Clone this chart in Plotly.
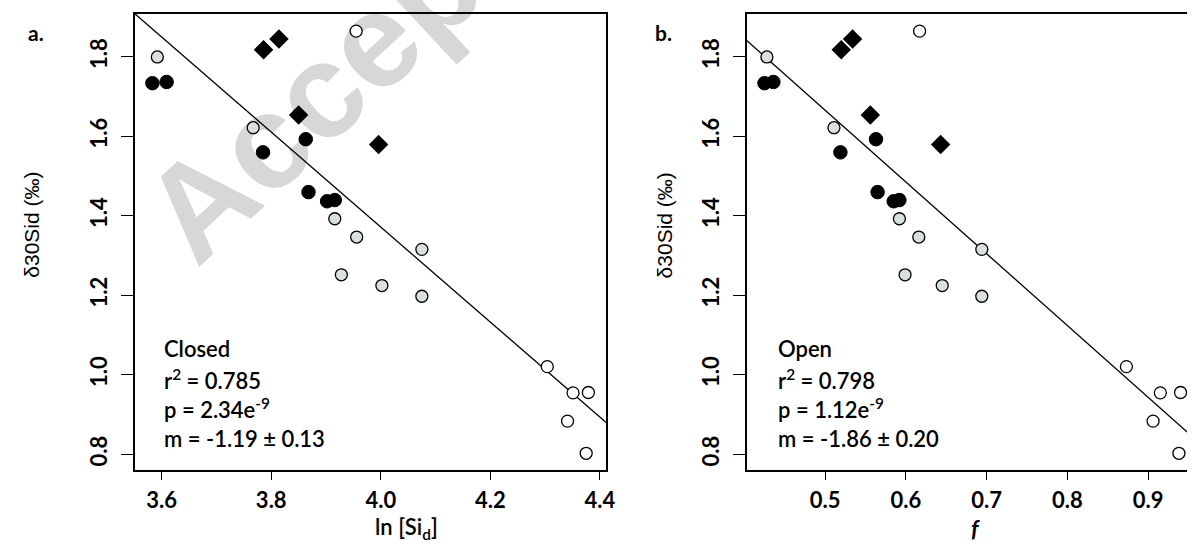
import plotly.graph_objects as go

# ---------------- data ----------------
# Panel a: ln[Si_d] (closed system)
grey_x_a = [3.592, 3.767, 3.916, 3.956, 4.075, 3.928, 4.002, 4.075]
grey_y = [1.800, 1.622, 1.393, 1.347, 1.316, 1.252, 1.225, 1.198]
white_x_a = [3.955, 4.304, 4.351, 4.379, 4.341, 4.375]
white_y = [1.865, 1.021, 0.955, 0.956, 0.884, 0.803]
black_x_a = [3.583, 3.609, 3.785, 3.863, 3.868, 3.902, 3.916]
black_y = [1.734, 1.737, 1.560, 1.593, 1.460, 1.437, 1.440]
diam_x_a = [3.786, 3.814, 3.850, 3.996]
diam_y = [1.818, 1.845, 1.654, 1.580]
fit_a = dict(slope=-1.195, intercept=6.152, x0=3.40, x1=4.60)

# Panel b: f (open system)
grey_x_b = [0.428, 0.511, 0.592, 0.616, 0.694, 0.599, 0.645, 0.694]
white_x_b = [0.617, 0.873, 0.915, 0.940, 0.906, 0.938]
black_x_b = [0.425, 0.436, 0.519, 0.563, 0.565, 0.585, 0.592]
diam_x_b = [0.520, 0.534, 0.556, 0.643]
fit_b = dict(slope=-1.806, intercept=2.569, x0=0.30, x1=1.10)

stats_a = ["Closed", "r<sup>2</sup> = 0.785", "p = 2.34e<sup>-9</sup>", "m = -1.19 ± 0.13"]
stats_b = ["Open", "r<sup>2</sup> = 0.798", "p = 1.12e<sup>-9</sup>", "m = -1.86 ± 0.20"]

y_ticks = [0.8, 1.0, 1.2, 1.4, 1.6, 1.8]
x_ticks_a = [3.6, 3.8, 4.0, 4.2, 4.4]
x_ticks_b = [0.5, 0.6, 0.7, 0.8, 0.9]

# ---------------- layout helpers ----------------
W, H = 1197, 545
def px(x):
    return x / W
def py(y):
    return 1 - y / H

GREY = "#d9e0e0"
TICKFONT = dict(family="Lato", size=22, color="black", weight=700)

fig = go.Figure()

def add_panel(xs_grey, xs_white, xs_black, xs_diam, fit, xa, ya):
    fig.add_trace(go.Scatter(
        x=[fit["x0"], fit["x1"]],
        y=[fit["intercept"] + fit["slope"] * fit["x0"], fit["intercept"] + fit["slope"] * fit["x1"]],
        mode="lines", line=dict(color="black", width=1.3), xaxis=xa, yaxis=ya, showlegend=False,
        hoverinfo="skip"))
    fig.add_trace(go.Scatter(x=xs_diam, y=diam_y, mode="markers", xaxis=xa, yaxis=ya,
                             marker=dict(symbol="diamond", size=15, color="black",
                                         line=dict(color="black", width=0)), showlegend=False))
    fig.add_trace(go.Scatter(x=xs_black, y=black_y, mode="markers", xaxis=xa, yaxis=ya,
                             marker=dict(symbol="circle", size=13.5, color="black",
                                         line=dict(color="black", width=1)), showlegend=False))
    fig.add_trace(go.Scatter(x=xs_grey, y=grey_y, mode="markers", xaxis=xa, yaxis=ya,
                             marker=dict(symbol="circle", size=12, color=GREY,
                                         line=dict(color="black", width=1.3)), showlegend=False))
    fig.add_trace(go.Scatter(x=xs_white, y=white_y, mode="markers", xaxis=xa, yaxis=ya,
                             marker=dict(symbol="circle", size=12, color="white",
                                         line=dict(color="black", width=1.3)), showlegend=False))

add_panel(grey_x_a, white_x_a, black_x_a, diam_x_a, fit_a, "x", "y")
add_panel(grey_x_b, white_x_b, black_x_b, diam_x_b, fit_b, "x2", "y2")

ydom = [py(470), py(14)]
common_y = dict(range=[0.761, 1.908], tickvals=y_ticks, ticktext=[f"{v:.1f}" for v in y_ticks],
                tickangle=-90, ticks="outside", ticklen=12, tickwidth=1.3, tickcolor="black",
                showline=True, linecolor="black", linewidth=1.5, showgrid=False, zeroline=False,
                tickfont=TICKFONT, ticklabelstandoff=5, domain=ydom)
common_x = dict(ticks="outside", ticklen=8, tickwidth=1.3, tickcolor="black",
                showline=True, linecolor="black", linewidth=1.5, mirror=True, showgrid=False,
                zeroline=False, tickfont=TICKFONT, ticklabelstandoff=2)

fig.update_layout(
    width=W, height=H, margin=dict(l=0, r=0, t=0, b=0),
    paper_bgcolor="white", plot_bgcolor="rgba(0,0,0,0)",
    xaxis=dict(range=[3.551, 4.411], tickvals=x_ticks_a, ticktext=[f"{v:.1f}" for v in x_ticks_a],
               domain=[px(136), px(611)], anchor="y", **common_x),
    yaxis=dict(anchor="x", mirror=True, **common_y),
    xaxis2=dict(range=[0.403, 0.948], tickvals=x_ticks_b, ticktext=[f"{v:.1f}" for v in x_ticks_b],
                domain=[px(753), 1.0], anchor="y2", **common_x),
    yaxis2=dict(anchor="x2", mirror=False, **common_y),
    showlegend=False,
)

# watermark (drawn below the data)
fig.add_shape(type="rect", xref="paper", yref="paper",
              x0=px(135), x1=px(625), y0=py(275), y1=py(-235),
              line=dict(width=0), fillcolor="rgba(0,0,0,0)", layer="below",
              label=dict(text="<b>Accepted</b>", textangle=-43, textposition="middle center",
                         font=dict(family="Liberation Sans", size=134, color="#d7d7d7")))

ann = []
def text(x, y, t, size=20, family="Lato", weight=700, xanchor="center", angle=0, italic=False):
    ann.append(dict(x=px(x), y=py(y), xref="paper", yref="paper", text=t, showarrow=False,
                    xanchor=xanchor, yanchor="middle", textangle=angle,
                    font=dict(family=family, size=size, color="black", weight=weight,
                              style="italic" if italic else "normal")))

text(36, 33, "a.", size=21)
text(669, 33, "b.", size=21)
text(32, 225, "δ30Sid (‰)", size=21, family="Liberation Sans", weight=400, angle=-90)
text(671, 225, "δ30Sid (‰)", size=21, family="Liberation Sans", weight=400, angle=-90)
text(410, 528, "ln [Si<sub>d</sub>]", size=22, weight=600)
text(984, 528, "f", size=23, weight=700, italic=True)

line_ys = [348, 379, 408, 438]
for t, yy in zip(stats_a, line_ys):
    text(163, yy, t, size=22, weight=600, xanchor="left")
for t, yy in zip(stats_b, line_ys):
    text(783, yy, t, size=22, weight=600, xanchor="left")

fig.update_layout(annotations=ann)
fig.write_html("out.html")
